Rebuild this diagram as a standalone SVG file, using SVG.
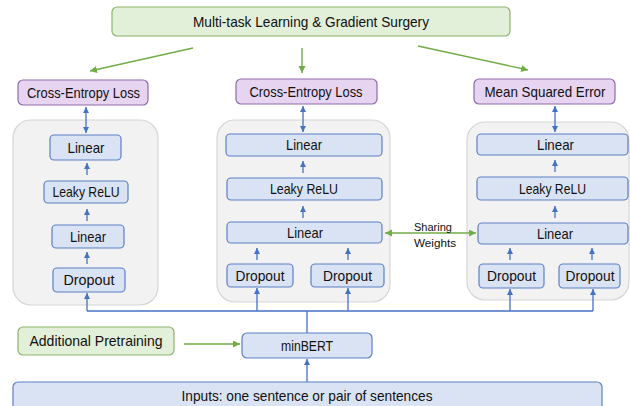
<svg xmlns="http://www.w3.org/2000/svg" width="630" height="406" viewBox="0 0 630 406">
<defs>
<marker id="ab" markerUnits="userSpaceOnUse" markerWidth="7" markerHeight="7" refX="6" refY="3" orient="auto-start-reverse"><path d="M0,0 L6,3 L0,6 z" fill="#4472c4"/></marker>
<marker id="ag" markerUnits="userSpaceOnUse" markerWidth="8" markerHeight="8" refX="7" refY="3.5" orient="auto-start-reverse"><path d="M0,0 L7,3.5 L0,7 z" fill="#70ad47"/></marker>
</defs>
<style>
text{font-family:"Liberation Sans",Arial,sans-serif;fill:#111;text-anchor:middle;font-size:14.5px}
.panel{fill:#f2f2f2;stroke:#d6d6d6;stroke-width:1.2}
.blue{fill:#dae3f3;stroke:#5b80c8;stroke-width:1.2}
.purple{fill:#e6d4f1;stroke:#8f6aab;stroke-width:1.2}
.green{fill:#e2efd9;stroke:#8cb56b;stroke-width:1.2}
.bl{stroke:#4472c4;stroke-width:1.3;fill:none}
.gl{stroke:#70ad47;stroke-width:1.4;fill:none}
.sm{font-size:11.5px}
</style>
<!-- panels -->
<rect class="panel" x="13" y="120" width="145" height="185" rx="18"/>
<rect class="panel" x="217" y="120" width="173" height="182" rx="18"/>
<rect class="panel" x="467" y="122" width="162" height="178" rx="18"/>

<g id="connectors">
<line class="gl" x1="193" y1="48" x2="90" y2="71" marker-end="url(#ag)"/>
<line class="gl" x1="302" y1="48" x2="302" y2="73" marker-end="url(#ag)"/>
<line class="gl" x1="418" y1="46" x2="528" y2="70" marker-end="url(#ag)"/>
<line class="bl" x1="86" y1="107" x2="86" y2="133" marker-start="url(#ab)" marker-end="url(#ab)"/>
<line class="bl" x1="303" y1="106" x2="303" y2="132" marker-start="url(#ab)" marker-end="url(#ab)"/>
<line class="bl" x1="555" y1="106" x2="555" y2="132" marker-start="url(#ab)" marker-end="url(#ab)"/>
<line class="bl" x1="87" y1="175" x2="87" y2="163" marker-end="url(#ab)"/>
<line class="bl" x1="87" y1="221" x2="87" y2="209" marker-end="url(#ab)"/>
<line class="bl" x1="87" y1="264" x2="87" y2="252" marker-end="url(#ab)"/>
<line class="bl" x1="303" y1="173" x2="303" y2="161" marker-end="url(#ab)"/>
<line class="bl" x1="303" y1="218" x2="303" y2="206" marker-end="url(#ab)"/>
<line class="bl" x1="257" y1="260" x2="257" y2="248" marker-end="url(#ab)"/>
<line class="bl" x1="348" y1="260" x2="348" y2="248" marker-end="url(#ab)"/>
<line class="bl" x1="555" y1="172" x2="555" y2="160" marker-end="url(#ab)"/>
<line class="bl" x1="555" y1="218" x2="555" y2="206" marker-end="url(#ab)"/>
<line class="bl" x1="510" y1="260" x2="510" y2="248" marker-end="url(#ab)"/>
<line class="bl" x1="592" y1="260" x2="592" y2="248" marker-end="url(#ab)"/>
<line class="gl" x1="385" y1="233" x2="476" y2="233" marker-start="url(#ag)" marker-end="url(#ag)"/>
<polyline class="bl" points="87,311 593,311"/>
<line class="bl" x1="87" y1="311" x2="87" y2="293" marker-end="url(#ab)"/>
<line class="bl" x1="257" y1="311" x2="257" y2="288" marker-end="url(#ab)"/>
<line class="bl" x1="348" y1="311" x2="348" y2="288" marker-end="url(#ab)"/>
<line class="bl" x1="510" y1="311" x2="510" y2="289" marker-end="url(#ab)"/>
<line class="bl" x1="593" y1="311" x2="593" y2="289" marker-end="url(#ab)"/>
<line class="bl" x1="307" y1="311" x2="307" y2="333"/>
<line class="bl" x1="307" y1="382" x2="307" y2="359" marker-end="url(#ab)"/>
<line class="gl" x1="184" y1="344" x2="240" y2="344" marker-end="url(#ag)"/>
<text class="sm" x="414" y="231" style="text-anchor:start" textLength="38" lengthAdjust="spacingAndGlyphs">Sharing</text>
<text class="sm" x="414" y="247" style="text-anchor:start" textLength="42" lengthAdjust="spacingAndGlyphs">Weights</text>
</g>

<g id="mtl"><rect class="green" x="112" y="7" width="398" height="29" rx="5"/><text x="311" y="27" textLength="236" lengthAdjust="spacingAndGlyphs">Multi-task Learning &amp; Gradient Surgery</text></g>
<g id="loss1"><rect class="purple" x="18" y="80" width="130" height="25" rx="5"/><text x="83.5" y="97.7" textLength="113" lengthAdjust="spacingAndGlyphs">Cross-Entropy Loss</text></g>
<g id="loss2"><rect class="purple" x="236" y="79" width="141" height="25" rx="5"/><text x="306" y="96.7" textLength="113" lengthAdjust="spacingAndGlyphs">Cross-Entropy Loss</text></g>
<g id="loss3"><rect class="purple" x="474" y="79" width="141" height="25" rx="5"/><text x="545" y="96.7" textLength="121" lengthAdjust="spacingAndGlyphs">Mean Squared Error</text></g>

<g id="l_linear1"><rect class="blue" x="50" y="135" width="71" height="25" rx="4"/><text x="86" y="152.7" textLength="37" lengthAdjust="spacingAndGlyphs">Linear</text></g>
<g id="l_relu"><rect class="blue" x="44" y="181" width="84" height="22" rx="4"/><text x="86" y="197.2" textLength="67" lengthAdjust="spacingAndGlyphs">Leaky ReLU</text></g>
<g id="l_linear2"><rect class="blue" x="52" y="225" width="72" height="23" rx="4"/><text x="88" y="241.7" textLength="36" lengthAdjust="spacingAndGlyphs">Linear</text></g>
<g id="l_dropout"><rect class="blue" x="53" y="268" width="72" height="24" rx="4"/><text x="89" y="285.2" textLength="51" lengthAdjust="spacingAndGlyphs">Dropout</text></g>

<g id="m_linear1"><rect class="blue" x="226" y="134" width="156" height="22" rx="4"/><text x="304" y="150.2" textLength="36" lengthAdjust="spacingAndGlyphs">Linear</text></g>
<g id="m_relu"><rect class="blue" x="227" y="178" width="155" height="22" rx="4"/><text x="304" y="194.2" textLength="68" lengthAdjust="spacingAndGlyphs">Leaky ReLU</text></g>
<g id="m_linear2"><rect class="blue" x="227" y="222" width="155" height="21" rx="4"/><text x="305" y="237.7" textLength="36" lengthAdjust="spacingAndGlyphs">Linear</text></g>
<g id="m_dropout1"><rect class="blue" x="227" y="264" width="66" height="23" rx="4"/><text x="260" y="280.7" textLength="49" lengthAdjust="spacingAndGlyphs">Dropout</text></g>
<g id="m_dropout2"><rect class="blue" x="311" y="264" width="73" height="23" rx="4"/><text x="347.5" y="280.7" textLength="49" lengthAdjust="spacingAndGlyphs">Dropout</text></g>

<g id="r_linear1"><rect class="blue" x="477" y="134" width="151" height="21" rx="4"/><text x="555.5" y="149.7" textLength="37" lengthAdjust="spacingAndGlyphs">Linear</text></g>
<g id="r_relu"><rect class="blue" x="477" y="177" width="151" height="23" rx="4"/><text x="552.5" y="193.7" textLength="67" lengthAdjust="spacingAndGlyphs">Leaky ReLU</text></g>
<g id="r_linear2"><rect class="blue" x="478" y="223" width="150" height="21" rx="4"/><text x="555" y="238.7" textLength="36" lengthAdjust="spacingAndGlyphs">Linear</text></g>
<g id="r_dropout1"><rect class="blue" x="479" y="264" width="65" height="24" rx="4"/><text x="511.5" y="281.2" textLength="49" lengthAdjust="spacingAndGlyphs">Dropout</text></g>
<g id="r_dropout2"><rect class="blue" x="559" y="264" width="61" height="24" rx="4"/><text x="590" y="281.2" textLength="49" lengthAdjust="spacingAndGlyphs">Dropout</text></g>

<g id="pretrain"><rect class="green" x="18" y="327" width="156" height="28" rx="5"/><text x="96" y="346.2" textLength="133" lengthAdjust="spacingAndGlyphs">Additional Pretraining</text></g>
<g id="minbert"><rect class="blue" x="242" y="333" width="130" height="25" rx="5"/><text x="307" y="350.7" textLength="52" lengthAdjust="spacingAndGlyphs">minBERT</text></g>
<g id="inputs"><rect class="blue" x="13" y="382" width="589" height="34" rx="5"/><text x="307" y="400.5" textLength="251" lengthAdjust="spacingAndGlyphs">Inputs: one sentence or pair of sentences</text></g>
</svg>
